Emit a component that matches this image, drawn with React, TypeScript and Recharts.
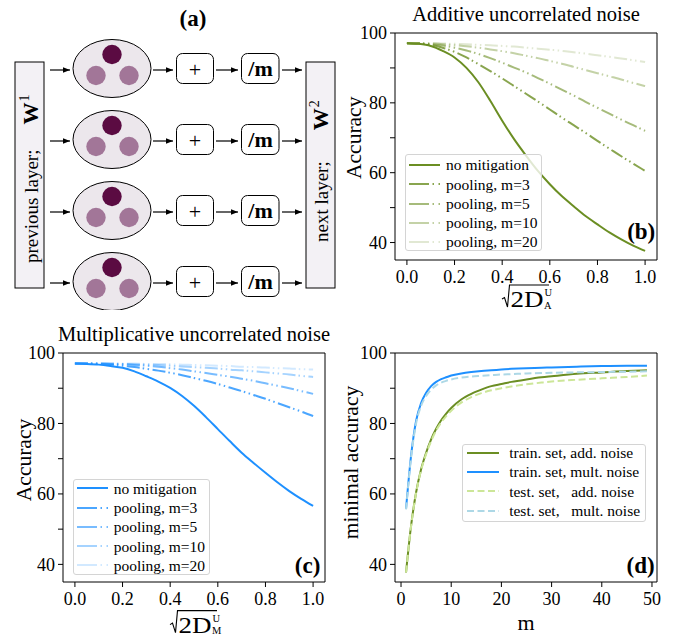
import { LineChart, Line, XAxis, YAxis, ReferenceArea, Legend, Label } from 'recharts'

const FONT = '"Liberation Serif", "Times New Roman", Times, serif'

// (b), (c): accuracy vs noise strength sqrt(2D)
const noiseLevels = [0, 0.05, 0.1, 0.15, 0.2, 0.25, 0.3, 0.35, 0.4, 0.45, 0.5, 0.55, 0.6, 0.65, 0.7, 0.75, 0.8, 0.85, 0.9, 0.95, 1.0]

const addNone = [97.1, 96.9, 96.3, 94.9, 93.0, 90.0, 85.9, 80.6, 74.9, 69.6, 64.9, 60.5, 56.7, 53.3, 50.4, 47.6, 45.2, 42.9, 40.9, 39.1, 37.6]
const addPool3 = [97.1, 97.0, 96.6, 95.8, 94.6, 93.0, 91.1, 89.1, 87.0, 84.8, 82.6, 80.4, 78.1, 75.8, 73.6, 71.4, 69.1, 66.9, 64.7, 62.6, 60.5]
const addPool5 = [97.1, 97.0, 96.8, 96.4, 95.8, 95.0, 94.0, 92.8, 91.5, 90.1, 88.7, 87.1, 85.5, 83.8, 82.1, 80.3, 78.6, 76.9, 75.2, 73.6, 72.0]
const addPool10 = [97.1, 97.1, 97.0, 96.8, 96.5, 96.2, 95.8, 95.3, 94.8, 94.2, 93.5, 92.8, 92.0, 91.2, 90.3, 89.4, 88.5, 87.6, 86.7, 85.7, 84.8]
const addPool20 = [97.1, 97.1, 97.1, 97.0, 96.9, 96.8, 96.6, 96.5, 96.3, 96.1, 95.8, 95.5, 95.2, 94.9, 94.5, 94.1, 93.6, 93.2, 92.7, 92.2, 91.7]

const multNone = [97.0, 96.9, 96.7, 96.3, 95.8, 94.8, 93.4, 91.9, 90.1, 87.8, 85.0, 81.8, 78.4, 75.0, 71.7, 68.8, 66.0, 63.3, 60.8, 58.6, 56.6]
const multPool3 = [97.0, 97.0, 96.9, 96.7, 96.4, 96.0, 95.5, 95.0, 94.4, 93.7, 92.9, 92.1, 91.2, 90.2, 89.2, 88.1, 87.0, 85.8, 84.6, 83.4, 82.1]
const multPool5 = [97.0, 97.0, 97.0, 96.9, 96.8, 96.6, 96.4, 96.1, 95.7, 95.3, 94.8, 94.3, 93.8, 93.3, 92.7, 92.1, 91.4, 90.7, 90.0, 89.2, 88.4]
const multPool10 = [97.0, 97.0, 97.0, 97.0, 96.9, 96.8, 96.7, 96.6, 96.4, 96.2, 96.0, 95.8, 95.6, 95.3, 95.1, 94.8, 94.5, 94.2, 93.9, 93.5, 93.2]
const multPool20 = [97.0, 97.0, 97.0, 97.0, 97.0, 97.0, 96.9, 96.9, 96.8, 96.7, 96.6, 96.5, 96.4, 96.3, 96.1, 96.0, 95.9, 95.7, 95.6, 95.4, 95.3]

// (d): minimal accuracy vs pool size m
const poolSizes = [1, 2, 3, 4, 5, 6, 7, 8, 9, 10, 12, 14, 16, 18, 20, 22, 25, 28, 30, 35, 40, 45, 49]
const trainAdd = [37.7, 50.9, 60.4, 67.0, 71.7, 75.5, 78.5, 80.9, 82.8, 84.4, 86.8, 88.4, 89.6, 90.6, 91.2, 91.8, 92.5, 93.1, 93.4, 94.1, 94.5, 94.9, 95.1]
const trainMult = [55.8, 70.8, 80.7, 85.8, 88.7, 90.6, 91.8, 92.6, 93.1, 93.6, 94.2, 94.6, 94.9, 95.1, 95.3, 95.5, 95.7, 95.8, 95.9, 96.1, 96.3, 96.4, 96.4]
const testAdd = [37.7, 50.8, 60.2, 66.7, 71.3, 75.0, 78.0, 80.3, 82.1, 83.6, 85.9, 87.5, 88.6, 89.4, 90.0, 90.5, 91.1, 91.6, 91.9, 92.4, 92.8, 93.2, 93.6]
const testMult = [55.6, 70.3, 80.0, 85.0, 87.8, 89.6, 90.8, 91.6, 92.1, 92.5, 93.0, 93.3, 93.5, 93.7, 93.9, 94.0, 94.2, 94.3, 94.4, 94.5, 94.6, 94.7, 94.8]

const accTicks = [40, 50, 60, 70, 80, 90, 100]
const noiseTicks = [0, 0.2, 0.4, 0.6, 0.8, 1.0]
const mTicks = [0, 10, 20, 30, 40, 50]

const poolKeys = ['none', 'm3', 'm5', 'm10', 'm20']
const poolLabels = ['no mitigation', 'pooling, m=3', 'pooling, m=5', 'pooling, m=10', 'pooling, m=20']
const minAccKeys = ['trainAdd', 'trainMult', 'testAdd', 'testMult']
const minAccLabels = ['train. set, add. noise', 'train. set, mult. noise', 'test. set,   add. noise', 'test. set,   mult. noise']

const toNoiseRows = (series: number[][]) =>
    noiseLevels.map((x, i) => {
        const row: Record<string, number> = { x }
        poolKeys.forEach((k, j) => { row[k] = series[j][i] })
        return row
    })

const additiveRows = toNoiseRows([addNone, addPool3, addPool5, addPool10, addPool20])
const multRows = toNoiseRows([multNone, multPool3, multPool5, multPool10, multPool20])
const minAccRows = poolSizes.map((m, i) => ({ m, trainAdd: trainAdd[i], trainMult: trainMult[i], testAdd: testAdd[i], testMult: testMult[i] }))

const GREEN = '#6b8e23'
const BLUE = '#1e90ff'
const poolOpacity = [1, 0.8, 0.6, 0.4, 0.2]
const DASHDOTDOT = '13 3 1.5 3.5 1.5 3.5'
const LEGEND_DASHDOTDOT = '20 3.5 1.5 4.5 1.5 20'

const tickStyle = { fontSize: 18, fill: '#000', fontFamily: FONT }
const accFormat = (v: number) => (v % 20 === 0 ? String(v) : '')

type LegendItem = { label: string; color: string; opacity: number; dash?: string }

const LegendBox = ({ items, width, height, shift, padLeft, handle, gap, rowH }: {
    items: LegendItem[]; width: number; height: number; shift: number; padLeft: number; handle: number; gap: number; rowH: number
}) => (
    <div style={{
        width, height, boxSizing: 'border-box', border: '1px solid #d4d4d4', borderRadius: 3,
        background: 'rgba(255,255,255,0.8)', fontFamily: FONT, fontSize: 15.5, color: '#000', overflow: 'hidden',
    }}>
        <div style={{ marginTop: shift, paddingLeft: padLeft }}>
            {items.map(it => (
                <div key={it.label} style={{ display: 'flex', alignItems: 'center', height: rowH, whiteSpace: 'pre' }}>
                    <svg width={handle} height={6} style={{ flex: 'none' }}>
                        <line x1={0} y1={3} x2={handle} y2={3} stroke={it.color} strokeOpacity={it.opacity} strokeWidth={2.2} strokeDasharray={it.dash} />
                    </svg>
                    <span style={{ marginLeft: gap, lineHeight: `${rowH}px` }}>{it.label}</span>
                </div>
            ))}
        </div>
    </div>
)

const SqrtLabel = (props: any) => {
    const { viewBox, sub, drop } = props
    if (!viewBox) return null
    const x0 = viewBox.x + viewBox.width / 2 - 24
    const by = viewBox.y + drop
    return (
        <g fontFamily={FONT} fill="#000">
            <path d={`M${x0},${by - 8} L${x0 + 2.5},${by - 9.5} L${x0 + 5.5},${by} L${x0 + 7.5},${by - 22} L${x0 + 47},${by - 22}`}
                fill="none" stroke="#000" strokeWidth={1.1} />
            <text x={x0 + 8.5} y={by} fontSize={24} textLength={33} lengthAdjust="spacingAndGlyphs">2D</text>
            <text x={x0 + 42.5} y={by - 11} fontSize={10.5}>U</text>
            <text x={x0 + 42} y={by + 1.5} fontSize={10.5}>{sub}</text>
        </g>
    )
}

const XText = (props: any) => {
    const { viewBox, text, drop } = props
    if (!viewBox) return null
    return <text x={viewBox.x + viewBox.width / 2} y={viewBox.y + drop} textAnchor="middle" fontFamily={FONT} fontSize={22} fill="#000">{text}</text>
}

const YText = (props: any) => {
    const { viewBox, text, inset, lift } = props
    if (!viewBox) return null
    const x = viewBox.x + viewBox.width - inset
    const y = viewBox.y + viewBox.height / 2 - lift
    return (
        <text x={x} y={y} transform={`rotate(-90 ${x} ${y})`} textAnchor="middle" fontFamily={FONT} fontSize={21.5} fill="#000">{text}</text>
    )
}

type Box = { left: number; top: number; width: number; height: number; mTop: number; mRight: number; yW: number; xH: number }

const NoisePanel = ({ box, rows, color, title, sub, panel, legendAt, xDrop, yInset, yLift, panelUp, panelIn }: {
    box: Box; rows: Record<string, number>[]; color: string; title: string; sub: string; panel: string
    legendAt: { left: number; top: number; width: number; height: number; shift: number }
    xDrop: number; yInset: number; yLift: number; panelUp: number; panelIn: number
}) => {
    const plotL = box.yW
    const plotR = box.width - box.mRight
    const plotB = box.height - box.xH
    const items: LegendItem[] = poolLabels.map((label, i) => ({ label, color, opacity: poolOpacity[i], dash: i === 0 ? undefined : LEGEND_DASHDOTDOT }))
    return (
        <div style={{ position: 'absolute', left: box.left, top: box.top }}>
            <LineChart width={box.width} height={box.height} data={rows} margin={{ top: box.mTop, right: box.mRight, left: 0, bottom: 0 }}>
                <XAxis dataKey="x" type="number" domain={[-0.05, 1.05]} allowDataOverflow ticks={noiseTicks} interval={0}
                    tickFormatter={(v: number) => v.toFixed(1)} height={box.xH} axisLine={false}
                    tickLine={{ stroke: '#000' }} tickSize={5} tickMargin={5} tick={tickStyle}>
                    <Label content={<SqrtLabel sub={sub} drop={xDrop} />} />
                </XAxis>
                <YAxis type="number" domain={[35, 100]} allowDataOverflow ticks={accTicks} interval={0} tickFormatter={accFormat}
                    width={box.yW} axisLine={false} tickLine={{ stroke: '#000' }} tickSize={5} tickMargin={3} tick={tickStyle}>
                    <Label content={<YText text="Accuracy" inset={yInset} lift={yLift} />} />
                </YAxis>
                <ReferenceArea x1={-0.05} x2={1.05} y1={35} y2={100} fill="none" stroke="#000" strokeWidth={1} ifOverflow="visible" />
                {poolKeys.map((k, i) => (
                    <Line key={k} type="monotone" dataKey={k} name={poolLabels[i]} stroke={color} strokeOpacity={poolOpacity[i]}
                        strokeWidth={2} strokeDasharray={i === 0 ? undefined : DASHDOTDOT} dot={false} activeDot={false} isAnimationActive={false} />
                ))}
                <Legend layout="vertical" align="center" verticalAlign="middle"
                    wrapperStyle={{ position: 'absolute', left: legendAt.left, top: legendAt.top, width: legendAt.width, height: legendAt.height }}
                    content={() => <LegendBox items={items} width={legendAt.width} height={legendAt.height} shift={legendAt.shift} padLeft={3} handle={31} gap={6} rowH={19.3} />} />
                <text x={(plotL + plotR) / 2} y={box.mTop - 12.5} textAnchor="middle" fontFamily={FONT} fontSize={20.5} fill="#000">{title}</text>
                <text x={plotR - panelIn} y={plotB - panelUp} textAnchor="end" fontFamily={FONT} fontSize={23} fontWeight="bold" fill="#000">{panel}</text>
            </LineChart>
        </div>
    )
}

const minAccStyles = [
    { color: GREEN, dash: undefined },
    { color: BLUE, dash: undefined },
    { color: '#cce698', dash: '7 3.5' },
    { color: '#add8e6', dash: '7 3.5' },
]

const MinAccPanel = () => {
    const box: Box = { left: 340, top: 315, width: 338, height: 322, mTop: 38, mRight: 21, yW: 55, xH: 55 }
    const plotR = box.width - box.mRight
    const plotB = box.height - box.xH
    const items: LegendItem[] = minAccLabels.map((label, i) => ({ label, color: minAccStyles[i].color, opacity: 1, dash: minAccStyles[i].dash }))
    return (
        <div style={{ position: 'absolute', left: box.left, top: box.top }}>
            <LineChart width={box.width} height={box.height} data={minAccRows} margin={{ top: box.mTop, right: box.mRight, left: 0, bottom: 0 }}>
                <XAxis dataKey="m" type="number" domain={[-1.2, 51]} allowDataOverflow ticks={mTicks} interval={0}
                    height={box.xH} axisLine={false} tickLine={{ stroke: '#000' }} tickSize={5} tickMargin={5} tick={tickStyle}>
                    <Label content={<XText text="m" drop={48.3} />} />
                </XAxis>
                <YAxis type="number" domain={[35, 100]} allowDataOverflow ticks={accTicks} interval={0} tickFormatter={accFormat}
                    width={box.yW} axisLine={false} tickLine={{ stroke: '#000' }} tickSize={5} tickMargin={3} tick={tickStyle}>
                    <Label content={<YText text="minimal accuracy" inset={37} lift={5} />} />
                </YAxis>
                <ReferenceArea x1={-1.2} x2={51} y1={35} y2={100} fill="none" stroke="#000" strokeWidth={1} ifOverflow="visible" />
                {minAccKeys.map((k, i) => (
                    <Line key={k} type="monotone" dataKey={k} name={minAccLabels[i]} stroke={minAccStyles[i].color} strokeWidth={2}
                        strokeDasharray={minAccStyles[i].dash} dot={false} activeDot={false} isAnimationActive={false} />
                ))}
                <Legend layout="vertical" align="center" verticalAlign="middle"
                    wrapperStyle={{ position: 'absolute', left: 121.7, top: 129.3, width: 184, height: 77.5 }}
                    content={() => <LegendBox items={items} width={184} height={77.5} shift={-2.4} padLeft={4} handle={32} gap={10.5} rowH={19.4} />} />
                <text x={plotR - 2.4} y={plotB - 9} textAnchor="end" fontFamily={FONT} fontSize={23} fontWeight="bold" fill="#000">(d)</text>
            </LineChart>
        </div>
    )
}

const rowY = [70, 141, 212, 283]

const Arrow = ({ x1, x2, y }: { x1: number; x2: number; y: number }) => (
    <line x1={x1} y1={y} x2={x2} y2={y} stroke="#000" strokeWidth={1.2} markerEnd="url(#ah)" />
)

const PoolDiagram = () => (
    <svg width={340} height={310} style={{ position: 'absolute', left: 0, top: 0 }} fontFamily={FONT}>
        <defs>
            <marker id="ah" viewBox="0 0 10 10" refX="10" refY="5" markerWidth="7" markerHeight="7" orient="auto" markerUnits="userSpaceOnUse">
                <path d="M0,1 L10,5 L0,9 z" fill="#000" />
            </marker>
        </defs>
        <text x={193} y={26} textAnchor="middle" fontSize={23} fontWeight="bold" fill="#000">(a)</text>
        <rect x={15} y={62} width={29} height={226} fill="#f3f1f5" stroke="#000" strokeWidth={1} />
        <text transform="translate(37.5,263) rotate(-90)" fontSize={19} fill="#000">
            previous layer;<tspan dx={25} fontWeight="bold" fontSize={22}>W</tspan><tspan dx={1} dy={-9} fontSize={14}>1</tspan>
        </text>
        <rect x={306} y={62} width={29} height={226} fill="#f3f1f5" stroke="#000" strokeWidth={1} />
        <text transform="translate(327.5,242) rotate(-90)" fontSize={19} fill="#000">
            next layer;<tspan dx={31} fontWeight="bold" fontSize={22}>W</tspan><tspan dx={1} dy={-9} fontSize={14}>2</tspan>
        </text>
        {rowY.map(y => (
            <g key={y}>
                <Arrow x1={50} x2={70} y={y} />
                <ellipse cx={112} cy={y - 1.5} rx={39} ry={29} fill="#ece7ec" stroke="#000" strokeWidth={1} />
                <circle cx={112} cy={y - 15.5} r={9.7} fill="#5b0b42" />
                <circle cx={96} cy={y + 5.5} r={9.7} fill="#a27698" />
                <circle cx={129} cy={y + 5.5} r={9.7} fill="#a27698" />
                <Arrow x1={153} x2={173} y={y} />
                <rect x={176.5} y={y - 16.5} width={37} height={30} rx={6} fill="#fff" stroke="#000" strokeWidth={1} />
                <text x={195} y={y + 6.5} textAnchor="middle" fontSize={22} fill="#000">+</text>
                <Arrow x1={216} x2={238} y={y} />
                <rect x={241.5} y={y - 16.5} width={37.5} height={30} rx={6} fill="#fff" stroke="#000" strokeWidth={1} />
                <text x={260.5} y={y + 5.5} textAnchor="middle" fontSize={22} fontWeight="bold" fill="#000">/m</text>
                <Arrow x1={282} x2={302} y={y} />
            </g>
        ))}
    </svg>
)

export default function App() {
    return (
        <div style={{ position: 'absolute', left: 0, top: 0, width: 678, height: 637, background: '#fff', overflow: 'hidden' }}>
            <PoolDiagram />
            <NoisePanel
                box={{ left: 340, top: 0, width: 338, height: 315, mTop: 33, mRight: 21, yW: 55, xH: 55 }}
                rows={additiveRows} color={GREEN} title="Additive uncorrelated noise" sub="A" panel="(b)"
                legendAt={{ left: 65, top: 154, width: 137, height: 97, shift: 0.3 }}
                xDrop={47} yInset={33.5} yLift={8.7} panelUp={21} panelIn={1.7}
            />
            <NoisePanel
                box={{ left: 0, top: 315, width: 340, height: 322, mTop: 38, mRight: 15, yW: 63, xH: 55 }}
                rows={multRows} color={BLUE} title="Multiplicative uncorrelated noise" sub="M" panel="(c)"
                legendAt={{ left: 72.7, top: 164, width: 137, height: 95.5, shift: -1.4 }}
                xDrop={50.6} yInset={32.4} yLift={7.5} panelUp={9} panelIn={4.7}
            />
            <MinAccPanel />
        </div>
    )
}
